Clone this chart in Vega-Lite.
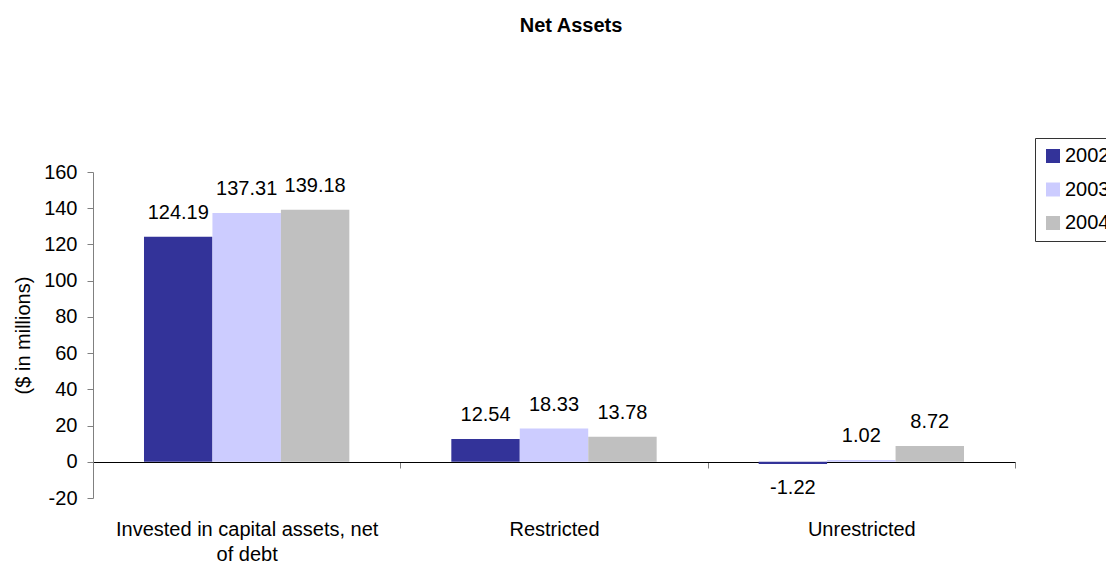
{
  "$schema": "https://vega.github.io/schema/vega-lite/v6.json",
  "autosize": {"type": "none"},
  "padding": {"left": 93, "top": 172, "right": 91, "bottom": 66},
  "width": 922,
  "height": 326,
  "background": "white",
  "config": {
    "font": "Liberation Sans",
    "view": {"stroke": null},
    "axis": {"labelFont": "Liberation Sans", "titleFont": "Liberation Sans", "labelColor": "#000", "titleColor": "#000"}
  },
  "title": {
    "text": "Net Assets",
    "font": "Liberation Sans",
    "fontSize": 20,
    "fontWeight": "bold",
    "color": "#000",
    "anchor": "middle",
    "frame": "group",
    "baseline": "alphabetic",
    "dx": 17,
    "dy": -82
  },
  "data": {
    "values": [
      {"category": "Invested in capital assets, net of debt", "year": "2002", "value": 124.19},
      {"category": "Invested in capital assets, net of debt", "year": "2003", "value": 137.31},
      {"category": "Invested in capital assets, net of debt", "year": "2004", "value": 139.18},
      {"category": "Restricted", "year": "2002", "value": 12.54},
      {"category": "Restricted", "year": "2003", "value": 18.33},
      {"category": "Restricted", "year": "2004", "value": 13.78},
      {"category": "Unrestricted", "year": "2002", "value": -1.22},
      {"category": "Unrestricted", "year": "2003", "value": 1.02},
      {"category": "Unrestricted", "year": "2004", "value": 8.72}
    ]
  },
  "encoding": {
    "x": {
      "field": "category",
      "type": "nominal",
      "sort": null,
      "scale": {"paddingInner": 0, "paddingOuter": 0},
      "axis": {
        "title": null,
        "offset": -36,
        "domainColor": "#000",
        "domainWidth": 1,
        "tickColor": "#808080",
        "tickSize": 6,
        "tickBand": "extent",
        "labelAngle": 0,
        "labelFontSize": 20,
        "labelPadding": 51,
        "labelLimit": 0,
        "labelLineHeight": 25,
        "labelBaseline": "top",
        "labelExpr": "datum.label == 'Invested in capital assets, net of debt' ? ['Invested in capital assets, net', 'of debt'] : datum.label"
      }
    },
    "xOffset": {
      "field": "year",
      "type": "nominal",
      "scale": {"paddingInner": 0, "paddingOuter": 0.745}
    },
    "y": {
      "field": "value",
      "type": "quantitative",
      "scale": {"domain": [-20, 160], "nice": false, "zero": false},
      "axis": {
        "title": "($ in millions)",
        "values": [-20, 0, 20, 40, 60, 80, 100, 120, 140, 160],
        "labelExpr": "replace(datum.label, '\u2212', '-')",
        "grid": false,
        "domainColor": "#808080",
        "tickColor": "#808080",
        "tickSize": 6,
        "labelFontSize": 20,
        "labelPadding": 10,
        "titleFontSize": 20,
        "titleFontWeight": "normal",
        "titleAngle": -90,
        "titleBaseline": "alphabetic",
        "titleAlign": "center",
        "titleX": -64,
        "titleY": 163
      }
    }
  },
  "layer": [
    {
      "mark": {"type": "bar", "strokeWidth": 0},
      "encoding": {
        "color": {
          "field": "year",
          "type": "nominal",
          "scale": {"domain": ["2002", "2003", "2004"], "range": ["#333399", "#CCCCFF", "#C0C0C0"]},
          "legend": {
            "title": null,
            "orient": "none",
            "legendX": 942,
            "legendY": -34,
            "direction": "vertical",
            "symbolType": "square",
            "symbolSize": 196,
            "symbolStrokeWidth": 0,
            "symbolOpacity": 1,
            "labelFontSize": 20,
            "labelFont": "Liberation Sans",
            "labelColor": "#000",
            "labelOffset": 2,
            "rowPadding": 13.5,
            "padding": 8,
            "strokeColor": "#333",
            "fillColor": "#fff"
          }
        }
      }
    },
    {
      "transform": [{"filter": "datum.value >= 0"}],
      "mark": {"type": "text", "fontSize": 20, "color": "#000", "baseline": "middle", "align": "center", "dy": -24},
      "encoding": {"text": {"field": "value", "type": "nominal"}}
    },
    {
      "transform": [{"filter": "datum.value < 0"}],
      "mark": {"type": "text", "fontSize": 20, "color": "#000", "baseline": "middle", "align": "center", "dy": 24},
      "encoding": {"text": {"field": "value", "type": "nominal"}}
    }
  ]
}
